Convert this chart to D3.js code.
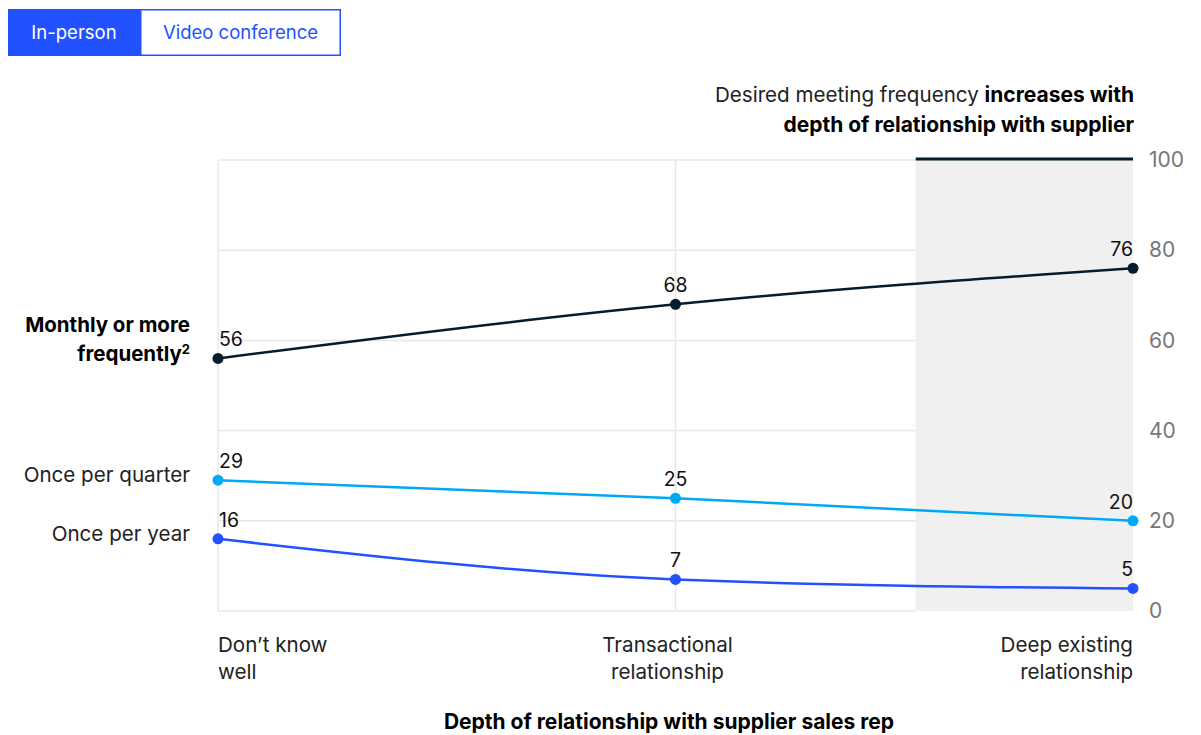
<!DOCTYPE html>
<html>
<head>
<meta charset="utf-8">
<script src="https://cdn.jsdelivr.net/npm/d3@7"></script>
<style>
  body { margin: 0; background: #fff; }
  svg { font-family: Inter, "Liberation Sans", Arial, sans-serif; }
</style>
</head>
<body>
<div id="chart"></div>
<script>
const categories = [["Don\u2019t know", "well"], ["Transactional", "relationship"], ["Deep existing", "relationship"]];
const seriesNames = ["Monthly or more frequently", "Once per quarter", "Once per year"];
const monthly = [56, 68, 76];
const quarterly = [29, 25, 20];
const yearly = [16, 7, 5];
const yTicks = [0, 20, 40, 60, 80, 100];
const tabs = ["In-person", "Video conference"];

const width = 1201, height = 735;
const margin = { top: 160, right: 68, bottom: 124, left: 218 };
const font = 'Inter, "Liberation Sans", Arial, sans-serif';
const reg = 20.6, bold = 21;

const svg = d3.select('#chart').append('svg')
  .attr('width', width)
  .attr('height', height);

// tabs
const tabW = [132, 201];
let tx = 8;
tabs.forEach((t, i) => {
  svg.append('rect')
    .attr('x', tx + (i ? 0.75 : 0)).attr('y', i ? 9.75 : 9)
    .attr('width', tabW[i] - (i ? 1.5 : 0)).attr('height', i ? 45.5 : 47)
    .attr('fill', i ? '#fff' : '#2251ff')
    .attr('stroke', i ? '#2251ff' : 'none')
    .attr('stroke-width', 1.5);
  svg.append('text')
    .attr('x', tx + tabW[i] / 2).attr('y', 39)
    .attr('text-anchor', 'middle')
    .attr('font-size', 18.5)
    .attr('fill', i ? '#2251ff' : '#fff')
    .text(t);
  tx += tabW[i];
});

const x = d3.scaleLinear().domain([0, 2]).range([margin.left, width - margin.right]);
const y = d3.scaleLinear().domain([0, 100]).range([height - margin.bottom, margin.top]);

// shaded band
svg.append('rect')
  .attr('x', x(1.525)).attr('y', y(100))
  .attr('width', x(2) - x(1.525)).attr('height', y(0) - y(100))
  .attr('fill', '#f0f0f0');

// gridlines
svg.append('g').selectAll('line')
  .data(yTicks)
  .join('line')
    .attr('x1', x(0)).attr('x2', x(1.525))
    .attr('y1', d => y(d)).attr('y2', d => y(d))
    .attr('stroke', '#e8e8e8').attr('stroke-width', 1.5);

svg.append('g').selectAll('line')
  .data([0, 1])
  .join('line')
    .attr('x1', d => x(d)).attr('x2', d => x(d))
    .attr('y1', y(0)).attr('y2', y(100))
    .attr('stroke', '#e8e8e8').attr('stroke-width', 1.5);

svg.append('line')
  .attr('x1', x(1.525)).attr('x2', x(2))
  .attr('y1', y(100) - 1).attr('y2', y(100) - 1)
  .attr('stroke', '#051c2c').attr('stroke-width', 3);

// y axis on the right
const yAxis = svg.append('g')
  .attr('transform', `translate(${x(2)},0)`)
  .call(d3.axisRight(y).tickValues(yTicks).tickSize(0).tickPadding(16));
yAxis.select('.domain').remove();
yAxis.selectAll('text')
  .attr('font-size', 21)
  .attr('font-family', font)
  .attr('fill', '#777');

// series
const series = [
  { name: seriesNames[0], values: monthly, color: '#051c2c' },
  { name: seriesNames[1], values: quarterly, color: '#00a9f4' },
  { name: seriesNames[2], values: yearly, color: '#2251ff' }
];

const line = d3.line()
  .x((d, i) => x(i))
  .y(d => y(d))
  .curve(d3.curveMonotoneX);

series.forEach(s => {
  const g = svg.append('g');
  g.append('path')
    .datum(s.values)
    .attr('d', line)
    .attr('fill', 'none')
    .attr('stroke', s.color)
    .attr('stroke-width', 2.5);
  g.selectAll('circle')
    .data(s.values)
    .join('circle')
      .attr('cx', (d, i) => x(i))
      .attr('cy', d => y(d))
      .attr('r', 5.5)
      .attr('fill', s.color);
  g.selectAll('text')
    .data(s.values)
    .join('text')
      .attr('x', (d, i) => i === 0 ? x(i) + 1 : x(i))
      .attr('y', d => y(d) - 12)
      .attr('text-anchor', (d, i) => ['start', 'middle', 'end'][i])
      .attr('font-size', 19.5)
      .attr('fill', '#111')
      .text(d => d);
});

// series labels on the left
const leftX = 190;
const mLab = svg.append('text')
  .attr('x', leftX).attr('y', y(monthly[0]) - 26)
  .attr('text-anchor', 'end')
  .attr('font-size', 20.5)
  .attr('font-weight', 'bold')
  .attr('fill', '#000');
mLab.append('tspan').attr('x', leftX).text('Monthly or more');
const t2 = mLab.append('tspan').attr('x', leftX).attr('dy', 29).text('frequently');
t2.append('tspan').attr('font-size', 13).attr('dy', -7).text('2');

svg.append('text')
  .attr('x', leftX).attr('y', y(quarterly[0]) + 2)
  .attr('text-anchor', 'end')
  .attr('font-size', reg)
  .attr('fill', '#222')
  .text('Once per quarter');

svg.append('text')
  .attr('x', leftX).attr('y', y(yearly[0]) + 2)
  .attr('text-anchor', 'end')
  .attr('font-size', reg)
  .attr('fill', '#222')
  .text('Once per year');

// x category labels
categories.forEach((c, i) => {
  const anchor = ['start', 'middle', 'end'][i];
  const cx = i === 1 ? x(i) - 8 : x(i);
  const t = svg.append('text')
    .attr('y', 652)
    .attr('text-anchor', anchor)
    .attr('font-size', reg)
    .attr('fill', '#222');
  c.forEach((l, j) => t.append('tspan').attr('x', cx).attr('dy', j ? 27 : 0).text(l));
});

// x axis title
svg.append('text')
  .attr('x', 669).attr('y', 729)
  .attr('text-anchor', 'middle')
  .attr('font-size', bold)
  .attr('font-weight', 'bold')
  .attr('fill', '#000')
  .text('Depth of relationship with supplier sales rep');

// annotation
const ann = svg.append('text')
  .attr('x', x(2) + 1).attr('y', 102)
  .attr('text-anchor', 'end')
  .attr('font-size', reg)
  .attr('fill', '#222');
ann.append('tspan').text('Desired meeting frequency ');
ann.append('tspan').attr('font-weight', 'bold').attr('font-size', bold).attr('fill', '#000').text('increases with');
svg.append('text')
  .attr('x', x(2) + 1).attr('y', 132)
  .attr('text-anchor', 'end')
  .attr('font-size', bold)
  .attr('font-weight', 'bold')
  .attr('fill', '#000')
  .text('depth of relationship with supplier');
</script>
</body>
</html>
